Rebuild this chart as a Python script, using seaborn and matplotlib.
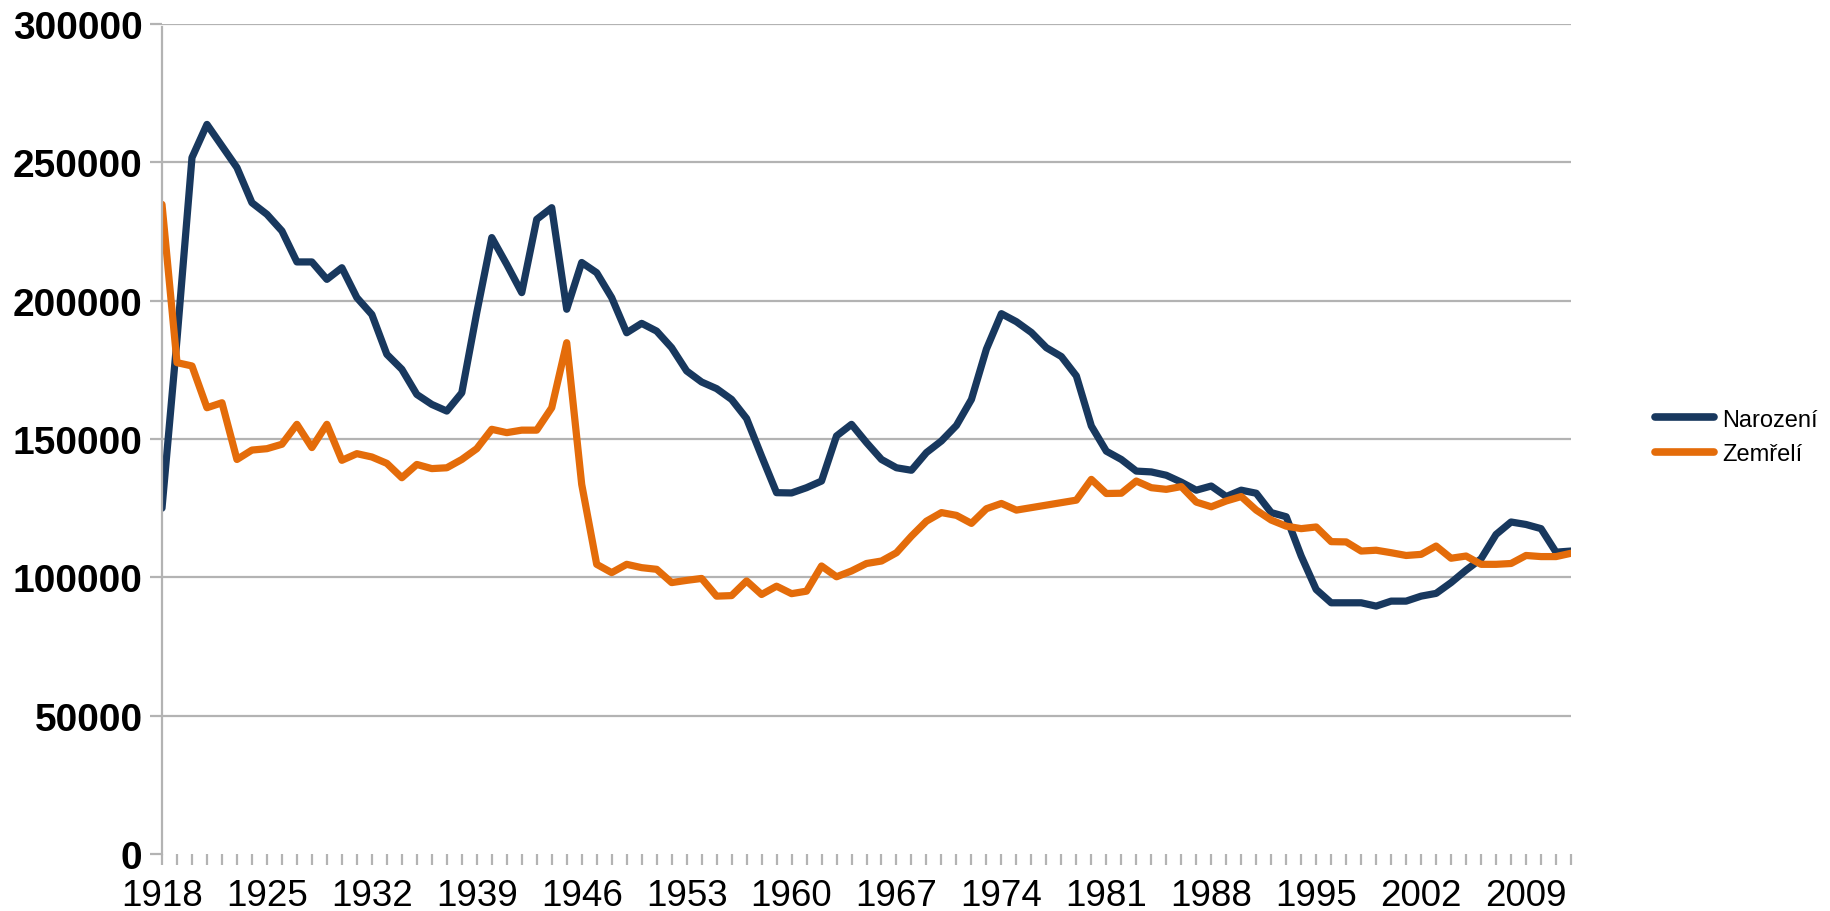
import numpy as np
import pandas as pd
import seaborn as sns
import matplotlib.pyplot as plt

sns.set_style("white")
plt.rcParams['font.family'] = ['Liberation Sans', 'DejaVu Sans']
plt.rcParams['text.color'] = 'black'
plt.rcParams['xtick.labelcolor'] = 'black'
plt.rcParams['ytick.labelcolor'] = 'black'

years = list(range(1918, 2013))

narozeni = [125000, 186000, 251700, 263700, 255900, 248100, 235400, 231200, 225200, 214000,
            214000, 207700, 211900, 201100, 195000, 180600, 175200, 166100, 162500, 160100,
            166700, 195700, 222800, 213100, 202900, 229400, 233600, 196900, 213800, 210100,
            201100, 188400, 191800, 189000, 183000, 174600, 170600, 168200, 164300, 157400,
            143800, 130600, 130500, 132400, 134800, 151100, 155300, 148700, 142600, 139600,
            138700, 145100, 149300, 154900, 164300, 182500, 195300, 192400, 188500, 183000,
            179800, 172800, 154700, 145600, 142600, 138400, 138100, 136900, 134400, 131500,
            133000, 129200, 131500, 130400, 123400, 121900, 107700, 95600, 90800, 90800,
            90800, 89600, 91400, 91400, 93200, 94200, 98100, 102600, 106700, 115500,
            120000, 119100, 117600, 109100, 109500]

zemreli = [234800, 177600, 176400, 161300, 163100, 142600, 146000, 146500, 148100, 155300,
           146900, 155300, 142300, 144700, 143500, 141200, 136000, 140800, 139300, 139600,
           142600, 146500, 153500, 152300, 153200, 153200, 161300, 184800, 133600, 104700,
           101700, 104700, 103500, 102900, 98100, 98900, 99600, 93200, 93400, 98700,
           93800, 96800, 94100, 95000, 104100, 100200, 102300, 105000, 105900, 108900,
           114900, 120300, 123400, 122400, 119500, 124800, 126700, 124300, 125200, 126100,
           127000, 127900, 135400, 130300, 130400, 134800, 132400, 131800, 132800, 127200,
           125500, 127600, 129200, 124300, 120700, 118500, 117600, 118200, 112900, 112800,
           109500, 109800, 108900, 107900, 108300, 111300, 106900, 107700, 104700, 104700,
           105000, 107900, 107500, 107500, 108700]

series_names = ['Narození', 'Zemřelí']
colors = ['#18385E', '#E46C0A']

df = pd.DataFrame({
    'rok': years * 2,
    'pocet': narozeni + zemreli,
    'serie': [series_names[0]] * len(years) + [series_names[1]] * len(years),
})

fig = plt.figure(figsize=(18.31, 9.12), dpi=100)
ax = fig.add_axes([162 / 1831, 1 - 855 / 912, (1571 - 162) / 1831, (855 - 25) / 912])

sns.lineplot(data=df, x='rok', y='pocet', hue='serie', palette=colors,
             linewidth=5.2, ax=ax, legend=False)

ax.set_xlim(1918, 2012)
ax.set_ylim(0, 300000)
ax.set_yticks(range(0, 300001, 50000))
ax.set_yticklabels([str(v) for v in range(0, 300001, 50000)], fontsize=28, fontweight='bold')
ax.set_xticks(years)
ax.set_xticklabels([str(y) if (y - 1918) % 7 == 0 else '' for y in years], fontsize=26.5)
ax.set_xlabel('')
ax.set_ylabel('')

for v in range(50000, 300001, 50000):
    ax.axhline(v, color='#b3b3b3', linewidth=1.6, zorder=0)

for side in ['top', 'right', 'bottom']:
    ax.spines[side].set_visible(False)
ax.spines['left'].set_color('#b3b3b3')
ax.spines['left'].set_linewidth(1.6)
ax.spines['left'].set_bounds(0, 299000)

ax.tick_params(axis='y', length=9, width=1.6, color='#b3b3b3', pad=5, left=True)
ax.tick_params(axis='x', length=8, width=1.6, color='#b3b3b3', pad=9, bottom=True)

handles = [plt.Line2D([], [], color=c, linewidth=5.5) for c in colors]
fig.legend(handles, series_names, loc='center left', bbox_to_anchor=(1655 / 1831, 1 - 438 / 912),
           frameon=False, fontsize=17, handlelength=2.5, handletextpad=0.35, labelspacing=0.55,
           borderpad=0, borderaxespad=0)

fig.savefig('out.png', dpi=100)
